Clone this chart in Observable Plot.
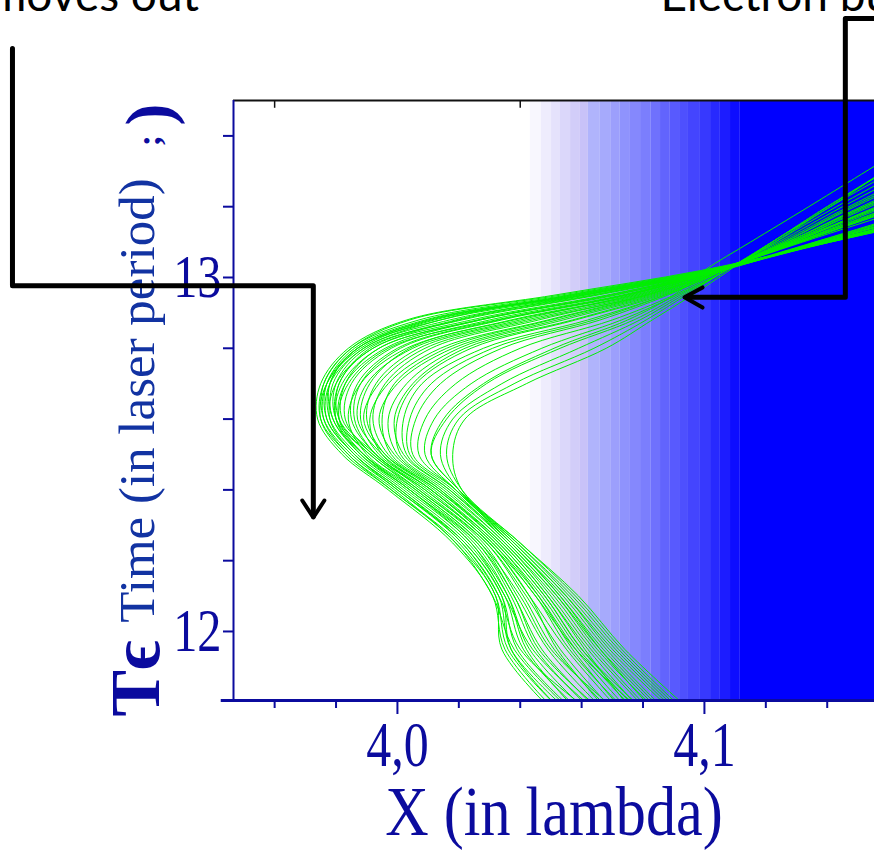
<!DOCTYPE html>
<html><head><meta charset="utf-8">
<script src="https://cdn.jsdelivr.net/npm/d3@7"></script>
<script src="https://cdn.jsdelivr.net/npm/@observablehq/plot@0.6"></script>
<style>html,body{margin:0;padding:0;background:#fff;overflow:hidden}</style>
</head><body><div id="chart"></div>
<script>
// Sample times (laser periods) shared by all trajectories
const times = [11.78, 11.95, 12.10, 12.25, 12.40, 12.50, 12.60, 12.70, 12.80, 12.88, 12.95, 13.02, 13.10, 13.20, 13.35];

// Electron positions X (lambda) at those times
const outerTrajectories = [
  [4.051, 4.035, 4.031, 4.018, 3.997, 3.982, 3.974, 3.975, 3.984, 4.003, 4.051, 4.099, 4.141, 4.193, 4.271],
  [4.053, 4.036, 4.032, 4.020, 3.998, 3.984, 3.975, 3.976, 3.985, 4.004, 4.053, 4.100, 4.141, 4.192, 4.268],
  [4.055, 4.037, 4.033, 4.021, 4.000, 3.985, 3.976, 3.976, 3.985, 4.007, 4.055, 4.101, 4.140, 4.190, 4.265],
  [4.057, 4.039, 4.034, 4.022, 4.001, 3.986, 3.977, 3.977, 3.986, 4.009, 4.057, 4.102, 4.141, 4.188, 4.262],
  [4.059, 4.041, 4.035, 4.023, 4.002, 3.987, 3.978, 3.978, 3.987, 4.011, 4.059, 4.103, 4.140, 4.187, 4.258],
  [4.061, 4.043, 4.036, 4.024, 4.004, 3.988, 3.979, 3.978, 3.987, 4.014, 4.061, 4.104, 4.140, 4.185, 4.255],
  [4.063, 4.045, 4.037, 4.026, 4.005, 3.989, 3.979, 3.979, 3.989, 4.017, 4.063, 4.104, 4.138, 4.182, 4.249],
  [4.065, 4.047, 4.038, 4.027, 4.006, 3.991, 3.980, 3.980, 3.990, 4.021, 4.065, 4.105, 4.138, 4.180, 4.245],
  [4.067, 4.049, 4.039, 4.028, 4.007, 3.992, 3.981, 3.981, 3.992, 4.024, 4.068, 4.105, 4.137, 4.177, 4.239],
  [4.069, 4.051, 4.041, 4.029, 4.008, 3.993, 3.982, 3.983, 3.994, 4.027, 4.070, 4.106, 4.136, 4.174, 4.232],
  [4.053, 4.037, 4.034, 4.022, 4.000, 3.986, 3.977, 3.978, 3.989, 4.014, 4.056, 4.101, 4.140, 4.188, 4.262],
  [4.058, 4.042, 4.036, 4.025, 4.004, 3.989, 3.980, 3.981, 3.991, 4.019, 4.061, 4.103, 4.139, 4.185, 4.255],
  [4.050, 4.034, 4.032, 4.019, 3.999, 3.984, 3.976, 3.977, 3.987, 4.010, 4.058, 4.102, 4.139, 4.186, 4.258],
  [4.062, 4.040, 4.033, 4.021, 4.001, 3.986, 3.978, 3.980, 3.992, 4.020, 4.064, 4.104, 4.137, 4.180, 4.244],
  [4.056, 4.038, 4.031, 4.019, 3.998, 3.983, 3.975, 3.977, 3.988, 4.012, 4.060, 4.103, 4.139, 4.185, 4.256],
  [4.064, 4.044, 4.035, 4.024, 4.003, 3.988, 3.980, 3.982, 3.994, 4.026, 4.069, 4.104, 4.136, 4.176, 4.235]
];
const middleTrajectories = [
  [4.070, 4.053, 4.042, 4.029, 4.007, 3.991, 3.981, 3.983, 3.996, 4.027, 4.071, 4.103, 4.131, 4.165, 4.216],
  [4.072, 4.055, 4.043, 4.030, 4.009, 3.992, 3.983, 3.985, 3.998, 4.030, 4.073, 4.103, 4.131, 4.163, 4.213],
  [4.074, 4.056, 4.045, 4.030, 4.010, 3.993, 3.986, 3.988, 4.001, 4.034, 4.075, 4.104, 4.130, 4.161, 4.209],
  [4.075, 4.058, 4.046, 4.031, 4.011, 3.994, 3.988, 3.991, 4.004, 4.037, 4.077, 4.104, 4.130, 4.159, 4.206],
  [4.077, 4.059, 4.047, 4.032, 4.012, 3.996, 3.990, 3.993, 4.007, 4.042, 4.079, 4.104, 4.129, 4.157, 4.203],
  [4.078, 4.060, 4.048, 4.033, 4.013, 3.997, 3.992, 3.996, 4.011, 4.046, 4.080, 4.105, 4.129, 4.156, 4.200],
  [4.079, 4.062, 4.049, 4.034, 4.014, 3.998, 3.995, 3.999, 4.016, 4.050, 4.082, 4.105, 4.128, 4.154, 4.196],
  [4.081, 4.063, 4.050, 4.035, 4.015, 4.000, 3.997, 4.003, 4.020, 4.054, 4.084, 4.105, 4.127, 4.152, 4.193],
  [4.082, 4.064, 4.051, 4.035, 4.016, 4.001, 4.000, 4.006, 4.024, 4.058, 4.086, 4.105, 4.127, 4.151, 4.190],
  [4.084, 4.065, 4.052, 4.036, 4.017, 4.003, 4.002, 4.008, 4.028, 4.062, 4.087, 4.106, 4.126, 4.149, 4.187],
  [4.066, 4.046, 4.038, 4.026, 4.004, 3.989, 3.981, 3.984, 3.997, 4.032, 4.074, 4.104, 4.132, 4.168, 4.222],
  [4.071, 4.050, 4.040, 4.027, 4.006, 3.990, 3.984, 3.988, 4.003, 4.038, 4.078, 4.104, 4.130, 4.162, 4.210],
  [4.073, 4.057, 4.046, 4.032, 4.011, 3.995, 3.987, 3.990, 4.005, 4.040, 4.076, 4.103, 4.131, 4.163, 4.212],
  [4.076, 4.061, 4.049, 4.034, 4.013, 3.996, 3.989, 3.994, 4.009, 4.044, 4.081, 4.105, 4.128, 4.157, 4.201],
  [4.080, 4.060, 4.048, 4.033, 4.014, 3.999, 3.994, 4.000, 4.018, 4.052, 4.083, 4.105, 4.128, 4.153, 4.195],
  [4.083, 4.066, 4.053, 4.037, 4.017, 4.002, 3.999, 4.005, 4.022, 4.057, 4.085, 4.106, 4.127, 4.152, 4.192],
  [4.068, 4.052, 4.043, 4.030, 4.009, 3.993, 3.985, 3.987, 4.000, 4.033, 4.074, 4.104, 4.131, 4.164, 4.214],
  [4.079, 4.058, 4.045, 4.031, 4.011, 3.995, 3.991, 3.997, 4.014, 4.049, 4.081, 4.105, 4.129, 4.158, 4.204]
];
const innerTrajectories = [
  [4.086, 4.067, 4.053, 4.037, 4.019, 4.005, 4.006, 4.014, 4.034, 4.066, 4.088, 4.106, 4.125, 4.147, 4.182],
  [4.087, 4.068, 4.054, 4.037, 4.019, 4.007, 4.009, 4.019, 4.040, 4.070, 4.090, 4.106, 4.124, 4.145, 4.178],
  [4.089, 4.069, 4.055, 4.038, 4.019, 4.009, 4.012, 4.024, 4.047, 4.073, 4.091, 4.107, 4.123, 4.143, 4.175],
  [4.091, 4.071, 4.056, 4.039, 4.020, 4.011, 4.016, 4.029, 4.053, 4.077, 4.092, 4.107, 4.123, 4.141, 4.172],
  [4.092, 4.072, 4.057, 4.039, 4.020, 4.014, 4.018, 4.034, 4.059, 4.079, 4.093, 4.107, 4.122, 4.140, 4.169],
  [4.095, 4.074, 4.059, 4.040, 4.021, 4.018, 4.022, 4.042, 4.068, 4.083, 4.096, 4.108, 4.122, 4.141, 4.167],
  [4.090, 4.070, 4.055, 4.038, 4.020, 4.011, 4.015, 4.028, 4.051, 4.075, 4.090, 4.100, 4.115, 4.134, 4.162],
  [4.085, 4.066, 4.052, 4.036, 4.018, 4.004, 4.004, 4.011, 4.031, 4.064, 4.087, 4.106, 4.126, 4.148, 4.185],
  [4.093, 4.073, 4.058, 4.040, 4.021, 4.016, 4.020, 4.038, 4.064, 4.081, 4.094, 4.107, 4.122, 4.140, 4.168]
];

// Plasma density ramp (stepped bands) along X
const bandEdges = [4.0433, 4.0469, 4.0502, 4.0531, 4.0564, 4.0596, 4.0622, 4.0661, 4.0697, 4.0726, 4.0759, 4.0792, 4.0827, 4.0857, 4.0889, 4.0922, 4.0948, 4.0987, 4.1020, 4.1052, 4.1085, 4.1117, 4.1700];
const bandDensity = [0.03, 0.07, 0.11, 0.15, 0.19, 0.23, 0.30, 0.34, 0.38, 0.43, 0.47, 0.51, 0.56, 0.61, 0.65, 0.69, 0.73, 0.78, 0.84, 0.89, 0.95, 1.0];

// Axes
const xDomain = [3.9466, 4.1554];
const yDomain = [11.805, 13.5];
const xMajorTicks = [4.0, 4.1];
const xMinorTicks = [3.96, 3.98, 4.02, 4.04, 4.06, 4.08, 4.12, 4.14];
const xTopTicks = [3.96, 4.04];
const yMajorTicks = [12, 13];
const yMinorTicks = [12.2, 12.4, 12.6, 12.8, 13.2, 13.4];
const xTitle = "X (in lambda)";
const yTitle = "Time (in laser period)";

// Annotation arrows (in chart units) and captions
const leftArrowPath = [
  {x: 3.8746, t: 13.647}, {x: 3.8746, t: 12.977}, {x: 3.9726, t: 12.977}, {x: 3.9726, t: 12.325}
];
const leftArrowHead = [
  {x: 3.9690, t: 12.370}, {x: 3.9726, t: 12.322}, {x: 3.9762, t: 12.370}
];
const rightArrowPath = [
  {x: 4.1580, t: 13.732}, {x: 4.1459, t: 13.732}, {x: 4.1459, t: 12.944}, {x: 4.0945, t: 12.944}
];
const rightArrowHead = [
  {x: 4.0994, t: 12.972}, {x: 4.0935, t: 12.944}, {x: 4.0994, t: 12.915}
];
const captions = [
  {x: 3.8668, t: 13.754, label: "moves out"},
  {x: 4.0857, t: 13.752, label: "Electron bunch"}
];

const rows = [];
[outerTrajectories, middleTrajectories, innerTrajectories].forEach((group, gi) =>
  group.forEach((xs, li) => xs.forEach((x, k) => rows.push({id: gi * 100 + li, t: times[k], x}))));
const bands = bandDensity.map((d, i) => ({x1: bandEdges[i], x2: bandEdges[i + 1], density: d}));

const axisBlue = "#0b0b9e";
const labelBlue = "#1233a2";
const fmtComma = d => d.toFixed(1).replace(".", ",");

const chart = Plot.plot({
  width: 874,
  height: 852,
  marginLeft: 233,
  marginRight: 0,
  marginTop: 100,
  marginBottom: 152,
  x: {domain: xDomain, label: null},
  y: {domain: yDomain, label: null},
  color: {type: "linear", domain: [0, 0.23, 0.30, 1], range: ["#ffffff", "#c8c2f8", "#b0b4fc", "#0000ff"]},
  style: {fontFamily: "Liberation Serif", background: "white", color: axisBlue, overflow: "visible"},
  marks: [
    Plot.rect(bands, {x1: "x1", x2: "x2", fill: "density", clip: true}),
    Plot.line(rows, {x: "x", y: "t", z: "id", stroke: "#00f000", strokeWidth: 1, curve: "catmull-rom", clip: true}),
    Plot.ruleY([yDomain[1]], {stroke: "#111", strokeWidth: 2}),
    Plot.ruleX(xTopTicks, {y1: yDomain[1], y2: yDomain[1] - 0.022, stroke: "#111", strokeWidth: 1.5}),
    Plot.ruleX([xDomain[0]], {stroke: axisBlue, strokeWidth: 2}),
    Plot.ruleY([yDomain[0]], {x1: xDomain[0] - 0.004, x2: xDomain[1], stroke: axisBlue, strokeWidth: 3}),
    Plot.axisX(xMajorTicks, {anchor: "bottom", tickSize: 14, tickPadding: 6, strokeWidth: 2, fontSize: 64, tickFormat: fmtComma, fill: axisBlue, label: null}),
    Plot.axisX(xMinorTicks, {anchor: "bottom", tickSize: 8, strokeWidth: 2, tickFormat: () => "", label: null}),
    Plot.axisY(yMajorTicks, {anchor: "left", tickSize: 10, tickPadding: 2, strokeWidth: 2, fontSize: 62, tickFormat: d => String(d), fill: axisBlue, label: null}),
    Plot.axisY(yMinorTicks, {anchor: "left", tickSize: 10, strokeWidth: 2, tickFormat: () => "", label: null}),
    Plot.text([xTitle], {frameAnchor: "bottom", dy: 112, fontSize: 70, fill: axisBlue, lineAnchor: "middle"}),
    Plot.text([yTitle], {frameAnchor: "left", textAnchor: "middle", lineAnchor: "middle", dx: -96, dy: 0, rotate: -90, fontSize: 51, fill: labelBlue}),
    Plot.text(["T\u03f5"], {frameAnchor: "bottom-left", textAnchor: "start", lineAnchor: "middle", dx: -97, dy: 16, rotate: -90, fontSize: 70, fontWeight: "bold", fill: axisBlue}),
    Plot.text([")"], {frameAnchor: "top-left", textAnchor: "middle", lineAnchor: "middle", dx: -84, dy: 14, rotate: -90, fontSize: 66, fontWeight: "bold", fill: axisBlue}),
    Plot.text([";"], {frameAnchor: "top-left", textAnchor: "middle", lineAnchor: "middle", dx: -84, dy: 40, rotate: -90, fontSize: 34, fontWeight: "bold", fill: axisBlue}),
    Plot.line(leftArrowPath, {x: "x", y: "t", stroke: "black", strokeWidth: 5, strokeLinejoin: "round"}),
    Plot.line(leftArrowHead, {x: "x", y: "t", stroke: "black", strokeWidth: 4}),
    Plot.line(rightArrowPath, {x: "x", y: "t", stroke: "black", strokeWidth: 5, strokeLinejoin: "round"}),
    Plot.line(rightArrowHead, {x: "x", y: "t", stroke: "black", strokeWidth: 4}),
    Plot.text(captions, {x: "x", y: "t", text: "label", textAnchor: "start", lineAnchor: "bottom", fontFamily: "Lato", fontSize: 46, fill: "black"})
  ]
});

function squeeze(el, sx) {
  const tr = el.getAttribute("transform");
  if (tr) el.setAttribute("transform", tr + ` scale(${sx},1)`);
  else {
    const x = +el.getAttribute("x") || 0, y = +el.getAttribute("y") || 0;
    el.setAttribute("transform", `translate(${x},${y}) scale(${sx},1) translate(${-x},${-y})`);
  }
}
chart.querySelectorAll("text").forEach(el => {
  const s = el.textContent;
  if (s === "4,0" || s === "4,1" || s === "12" || s === "13") squeeze(el, 0.78);
  if (s === xTitle) squeeze(el, 0.86);
});
document.getElementById("chart").appendChild(chart);
</script>
</body></html>
